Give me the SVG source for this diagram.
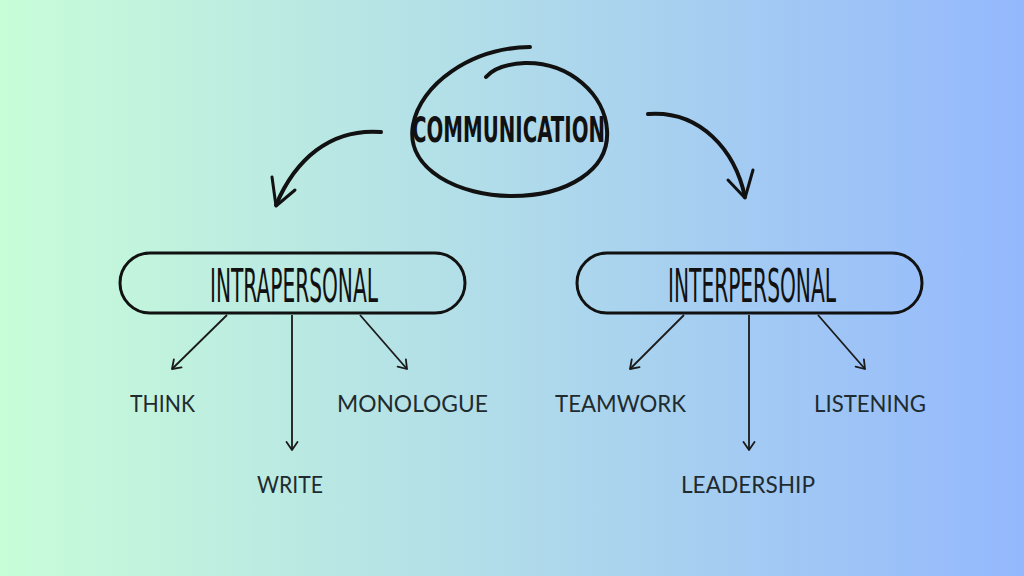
<svg xmlns="http://www.w3.org/2000/svg" width="1024" height="576" viewBox="0 0 1024 576">
<defs>
<linearGradient id="bg" x1="0" y1="0" x2="1" y2="0">
<stop offset="0" stop-color="#c8fdd8"/>
<stop offset="0.5" stop-color="#b0dbea"/>
<stop offset="1" stop-color="#94b8fd"/>
</linearGradient>
<marker id="ah" viewBox="-12 -8 14 16" markerWidth="14" markerHeight="16" refX="0" refY="0" orient="auto" markerUnits="userSpaceOnUse">
<path d="M-8,-5.5 L0,0 L-8,5.5" fill="none" stroke="#1a1a1a" stroke-width="1.8" stroke-linecap="round" stroke-linejoin="round"/>
</marker>
<style>
.hand{fill:none;stroke:#111;stroke-linecap:round;stroke-linejoin:round}
.conn{fill:none;stroke:#1a1a1a;stroke-width:1.8;marker-end:url(#ah)}
.title{font-family:"Liberation Sans Narrow","DejaVu Sans Condensed","Liberation Sans",sans-serif;fill:#111}
.label{font-family:Lato,"Open Sans","Liberation Sans",sans-serif;font-size:23px;fill:#1f2b2e}
</style>
</defs>
<rect width="1024" height="576" fill="url(#bg)"/>

<g id="communication">
<path class="hand" stroke-width="4" d="M530,47 C470,48 420,85 413,125 C405,170 460,196 512,196 C567,196 610,170 607,130 C605,95 570,62 525,63 C505,64 492,70 486,77"/>
<text class="title" x="412" y="142" font-size="36" font-weight="bold" textLength="193" lengthAdjust="spacingAndGlyphs">COMMUNICATION</text>
</g>

<g id="intrapersonal">
<rect class="hand" stroke-width="3" x="120" y="253" width="345" height="60" rx="30"/>
<text class="title" x="210" y="302" font-size="46" textLength="168" lengthAdjust="spacingAndGlyphs">INTRAPERSONAL</text>
</g>

<g id="interpersonal">
<rect class="hand" stroke-width="3" x="577" y="253" width="345" height="60" rx="30"/>
<text class="title" x="668" y="302" font-size="46" textLength="168" lengthAdjust="spacingAndGlyphs">INTERPERSONAL</text>
</g>

<g id="think"><text class="label" x="130" y="412" textLength="65" lengthAdjust="spacingAndGlyphs">THINK</text></g>
<g id="write"><text class="label" x="257" y="493" textLength="66" lengthAdjust="spacingAndGlyphs">WRITE</text></g>
<g id="monologue"><text class="label" x="337" y="412" textLength="151" lengthAdjust="spacingAndGlyphs">MONOLOGUE</text></g>
<g id="teamwork"><text class="label" x="555" y="412" textLength="131" lengthAdjust="spacingAndGlyphs">TEAMWORK</text></g>
<g id="leadership"><text class="label" x="681" y="493" textLength="134" lengthAdjust="spacingAndGlyphs">LEADERSHIP</text></g>
<g id="listening"><text class="label" x="814" y="412" textLength="112" lengthAdjust="spacingAndGlyphs">LISTENING</text></g>

<g id="connectors">
<path class="hand" stroke-width="4" d="M381,132 C330,128 295,160 276,205"/>
<path class="hand" stroke-width="3" d="M272,177 L276,206 L295,190"/>
<path class="hand" stroke-width="4" d="M648,114 C700,110 735,150 745,197"/>
<path class="hand" stroke-width="3" d="M753,170 L745,198 L728,180"/>

<line class="conn" x1="227" y1="315" x2="172" y2="369"/>
<line class="conn" x1="292" y1="315" x2="292" y2="450"/>
<line class="conn" x1="360" y1="315" x2="407" y2="369"/>
<line class="conn" x1="684" y1="315" x2="630" y2="369"/>
<line class="conn" x1="749" y1="315" x2="749" y2="450"/>
<line class="conn" x1="818" y1="315" x2="865" y2="369"/>
</g>
</svg>
